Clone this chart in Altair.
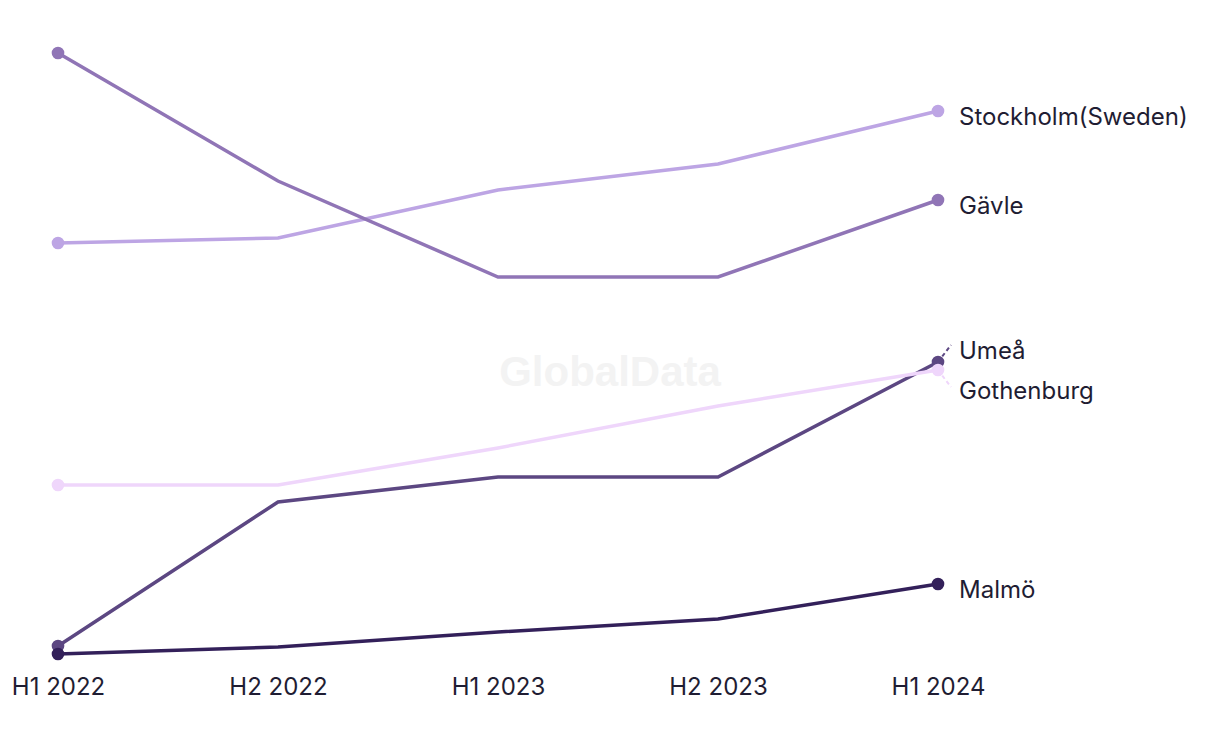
import altair as alt
import pandas as pd

periods = ["H1 2022", "H2 2022", "H1 2023", "H2 2023", "H1 2024"]
cities = ["Stockholm(Sweden)", "Gävle", "Umeå", "Gothenburg", "Malmö"]
stockholm = [41.7, 42.2, 47.0, 49.6, 54.9]
gavle = [60.7, 47.9, 38.3, 38.3, 46.0]
umea = [1.4, 15.8, 18.3, 18.3, 29.8]
gothenburg = [17.5, 17.5, 21.2, 25.4, 29.0]
malmo = [0.6, 1.3, 2.8, 4.1, 7.6]
colors = ["#bda5e4", "#9075b6", "#5c4782", "#efd6fb", "#33205a"]
label_dy = [7, 7, -10, 22, 7]

series = [stockholm, gavle, umea, gothenburg, malmo]
rows = []
for c, vals in zip(cities, series):
    for i, (p, v) in enumerate(zip(periods, vals)):
        rows.append({"period": p, "idx": i, "city": c, "value": v})
df = pd.DataFrame(rows)
last = df[df["period"] == periods[-1]].copy()
last["dy"] = [label_dy[cities.index(c)] for c in last["city"]]

x = alt.X("period:O", sort=periods, scale=alt.Scale(type="point", padding=0),
          axis=alt.Axis(title=None, labelAngle=0, domain=False, ticks=False,
                        labelPadding=15, labelFontSize=24, labelColor="#1f1d33",
                        labelFont="Inter", grid=False))
y = alt.Y("value:Q", scale=alt.Scale(domain=[0, 60.7], nice=False, zero=False), axis=None)
color = alt.Color("city:N", scale=alt.Scale(domain=cities, range=colors), legend=None)

watermark = alt.Chart(pd.DataFrame({"t": ["GlobalData"]})).mark_text(
    fontSize=42, fontWeight="bold", font="Liberation Sans", color="#f3f3f3"
).encode(text="t:N", x=alt.value(552), y=alt.value(320))

lines = alt.Chart(df).mark_line(strokeWidth=3.5).encode(
    x=x, y=y, color=color, order=alt.Order("idx:Q"))

first = df[df["period"] == periods[0]]
pts_first = alt.Chart(first).mark_point(filled=True, size=160, opacity=1).encode(x=x, y=y, color=color)
pts_last = alt.Chart(last).mark_point(filled=True, size=160, opacity=1).encode(x=x, y=y, color=color)

umea_lead = alt.Chart(last[last["city"] == "Umeå"]).mark_rule(
    strokeDash=[4, 3], strokeWidth=2, x2Offset=13, y2Offset=-17
).encode(x=x, y=y, x2=alt.X2("period:O"), y2=alt.Y2("value:Q"), color=color)
goth_lead = alt.Chart(last[last["city"] == "Gothenburg"]).mark_rule(
    strokeDash=[4, 3], strokeWidth=2, x2Offset=13, y2Offset=17
).encode(x=x, y=y, x2=alt.X2("period:O"), y2=alt.Y2("value:Q"), color=color)

labels = []
for c in cities:
    sub = last[last["city"] == c]
    labels.append(alt.Chart(sub).mark_text(
        align="left", baseline="middle", dx=21, dy=int(sub["dy"].iloc[0]),
        fontSize=24, font="Inter", color="#1f1d33"
    ).encode(x=x, y=y, text="city:N"))

chart = alt.layer(watermark, lines, umea_lead, goth_lead, pts_first, pts_last, *labels).properties(
    width=880, height=607,
    padding={"left": 58, "top": 53, "right": 282, "bottom": 84},
    autosize=alt.AutoSizeParams(type="none"),
    background="white",
).configure_view(stroke=None)

chart.save("out.html", embed_options={"renderer": "svg", "actions": False})
